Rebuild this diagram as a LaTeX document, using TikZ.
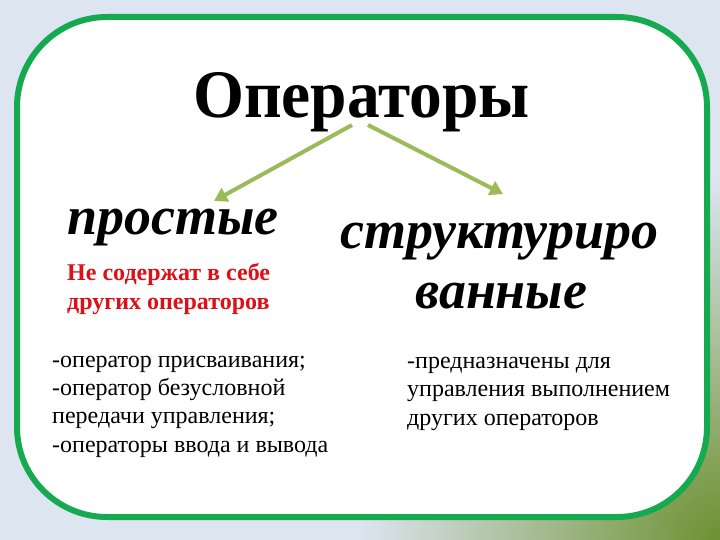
\documentclass[tikz,border=0pt]{standalone}
\usepackage{fontspec}
\usepackage{graphicx}
\setmainfont{Liberation Serif}
\usetikzlibrary{fadings,arrows.meta}
\definecolor{bgblue}{RGB}{221,229,241}
\definecolor{framegreen}{RGB}{22,170,80}
\definecolor{cornergreen}{RGB}{110,145,50}
\definecolor{arrowgreen}{RGB}{155,187,89}
\definecolor{redtext}{RGB}{220,16,24}
\tikzfading[name=cornerfade, inner color=transparent!0, outer color=transparent!100]
\tikzset{
  titletext/.style={font=\fontsize{68}{68}\selectfont\bfseries, inner sep=0pt},
  kindtext/.style={font=\fontsize{54}{54}\selectfont\bfseries\itshape, inner sep=0pt},
  redlines/.style={font=\fontsize{24}{29}\selectfont\bfseries, text=redtext, inner sep=0pt, align=left},
  listtext/.style={font=\fontsize{24}{28.3}\selectfont, inner sep=0pt, align=left},
  branch/.style={draw=arrowgreen, line width=4pt, -{Triangle[width=15pt,length=13pt]}},
}
\begin{document}
\begin{tikzpicture}[x=1pt,y=-1pt]
\useasboundingbox (0,0) rectangle (720,540);
\fill[bgblue] (0,0) rectangle (720,540);
\fill[cornergreen, path fading=cornerfade] (360,180) rectangle (1080,900);
\draw[framegreen, line width=6pt, fill=white, rounded corners=90pt] (17,17) rectangle (707,517);

\node[titletext, anchor=base west] (title) at (193,118) {\scalebox{0.963}[1]{Операторы}};
\node[kindtext, anchor=base west] (simple) at (67,235) {простые};
\node[kindtext, anchor=base west] (struct1) at (340,248) {структуриро};
\node[kindtext, anchor=base west] (struct2) at (415,308) {ванные};
\node[redlines, anchor=base west] (redt) at (67,309) {Не содержат в себе\\других операторов};
\node[listtext, anchor=base west] (leftlist) at (52,452) {-оператор присваивания;\\-оператор безусловной\\передачи управления;\\-операторы ввода и вывода};
\node[listtext, anchor=base west] (rightlist) at (407,425) {-предназначены для\\управления выполнением\\других операторов};

\coordinate (ls) at (352,125);
\coordinate (le) at (214,201);
\coordinate (rs) at (368,125);
\coordinate (re) at (503,194);
\draw[branch] (ls) -- (le);
\draw[branch] (rs) -- (re);
\end{tikzpicture}
\end{document}
